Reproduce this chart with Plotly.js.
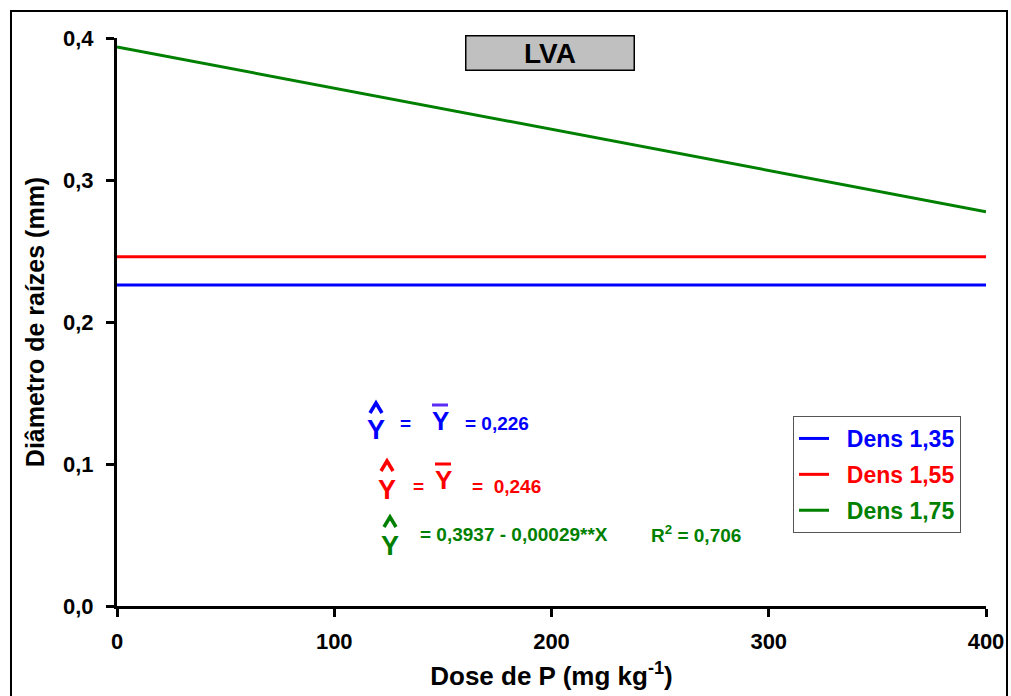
<!DOCTYPE html>
<html>
<head>
<meta charset="utf-8">
<script src="https://cdn.plot.ly/plotly-3.0.1.min.js"></script>
<style>html,body{margin:0;padding:0;background:#fff;}</style>
</head>
<body>
<div id="chart" style="width:1011px;height:696px;"></div>
<script>
// ---- data ----
const doses = [0, 100, 200, 300, 400];
const dens135 = [0.226, 0.226, 0.226, 0.226, 0.226];
const dens155 = [0.246, 0.246, 0.246, 0.246, 0.246];
const dens175 = [0.3937, 0.3647, 0.3357, 0.3067, 0.2777];
const seriesNames = ['Dens 1,35', 'Dens 1,55', 'Dens 1,75'];
const seriesColors = ['#0000ff', '#ff0000', '#008000'];
const xTicks = [0, 100, 200, 300, 400];
const yTicks = [0, 0.1, 0.2, 0.3, 0.4];

// pixel -> paper helpers (plot area: x 117..986, y 38..606)
const L = 117, R = 986, T = 38, B = 606;
const px = x => (x - L) / (R - L);
const py = y => (B - y) / (B - T);

const FONT = 'Liberation Sans, Arial, sans-serif';

const traces = [dens135, dens155, dens175].map((ys, i) => ({
  x: doses, y: ys, type: 'scatter', mode: 'lines',
  name: '<span style="color:' + seriesColors[i] + '">&nbsp;&nbsp;' + seriesNames[i] + '</span>',
  legendgroup: 'g' + i,
  line: {color: seriesColors[i], width: 3}
}));

function ann(x, y, text, color, size, xanchor) {
  return {xref: 'paper', yref: 'paper', x: px(x), y: py(y), text: text,
    showarrow: false, xanchor: xanchor || 'left', yanchor: 'middle',
    font: {family: FONT, size: size, color: color, weight: 'bold'}};
}

const annotations = [
  // title box
  {xref: 'paper', yref: 'paper', x: px(550), y: py(53), text: '<b>LVA</b>', showarrow: false,
   xanchor: 'center', yanchor: 'middle', width: 165, height: 31,
   bgcolor: '#c0c0c0', bordercolor: '#000', borderwidth: 1.5, borderpad: 1,
   font: {family: FONT, size: 28, color: '#000'}},
  // blue equation
  ann(376, 430, '<b>Y</b>', seriesColors[0], 27, 'center'),
  ann(405, 423, '<b>=</b>', seriesColors[0], 19, 'center'),
  ann(440, 421, '<b>Y</b>', seriesColors[0], 26, 'center'),
  ann(463, 423, '<b>= 0,226</b>', seriesColors[0], 19),
  // red equation
  ann(387, 490, '<b>Y</b>', seriesColors[1], 27, 'center'),
  ann(418, 486, '<b>=</b>', seriesColors[1], 19, 'center'),
  ann(443, 480, '<b>Y</b>', seriesColors[1], 26, 'center'),
  ann(470, 486, '<b>=  0,246</b>', seriesColors[1], 19),
  // green equation
  ann(390, 546, '<b>Y</b>', seriesColors[2], 27, 'center'),
  ann(418, 534, '<b>= 0,3937 - 0,00029**X</b>', seriesColors[2], 19),
  ann(649, 534, '<b>R<sup>2</sup> = 0,706</b>', seriesColors[2], 19)
];

function hat(cx, top, bottom, color) {
  return {type: 'path', xref: 'paper', yref: 'paper',
    path: 'M ' + px(cx - 6) + ',' + py(bottom) + ' L ' + px(cx) + ',' + py(top) + ' L ' + px(cx + 6) + ',' + py(bottom),
    line: {color: color, width: 3.5}};
}

const shapes = [
  // outer frame
  {type: 'rect', xref: 'paper', yref: 'paper', x0: px(11), x1: px(1007), y0: py(740), y1: py(11),
   line: {color: '#000', width: 2}, fillcolor: 'rgba(0,0,0,0)'},
  // hats
  hat(376, 403, 413, seriesColors[0]),
  hat(387, 461, 471, seriesColors[1]),
  hat(390, 517, 527, seriesColors[2]),
  // overbars
  {type: 'line', xref: 'paper', yref: 'paper', x0: px(432), x1: px(448), y0: py(405), y1: py(405),
   line: {color: '#5a2df5', width: 3}},
  {type: 'line', xref: 'paper', yref: 'paper', x0: px(435), x1: px(451), y0: py(464), y1: py(464),
   line: {color: seriesColors[1], width: 3}}
];

const layout = {
  width: 1011, height: 696,
  margin: {l: L, r: 1011 - R, t: T, b: 696 - B, pad: 0},
  paper_bgcolor: '#fff', plot_bgcolor: '#fff',
  separators: ',.',
  font: {family: FONT, color: '#000'},
  showlegend: true,
  legend: {
    x: px(793), y: py(416), xanchor: 'left', yanchor: 'top',
    bgcolor: '#fff', bordercolor: '#555', borderwidth: 1,
    font: {family: FONT, size: 23, weight: 'bold'},
    tracegroupgap: 3, itemwidth: 30
  },
  xaxis: {
    range: [0, 400], tickvals: xTicks, ticktext: xTicks.map(String),
    showgrid: false, zeroline: false, showline: true, linecolor: '#000', linewidth: 3,
    ticks: 'outside', ticklen: 8, tickwidth: 3, tickcolor: '#000',
    tickfont: {family: FONT, size: 22, weight: 'bold'},
    ticklabelstandoff: 6,
    title: {text: '<b>Dose de P (mg kg<sup>-1</sup>)</b>', font: {family: FONT, size: 26}, standoff: 14}
  },
  yaxis: {
    range: [0, 0.4], tickvals: yTicks, tickformat: '.1f',
    showgrid: false, zeroline: false, showline: true, linecolor: '#000', linewidth: 3,
    ticks: 'outside', ticklen: 8, tickwidth: 3, tickcolor: '#000',
    tickfont: {family: FONT, size: 22, weight: 'bold'},
    ticklabelstandoff: 8,
    title: {text: '<b>Diâmetro de raízes (mm)</b>', font: {family: FONT, size: 25}, standoff: 12}
  },
  annotations: annotations,
  shapes: shapes
};

Plotly.newPlot('chart', traces, layout, {displayModeBar: false, staticPlot: true});
</script>
</body>
</html>
